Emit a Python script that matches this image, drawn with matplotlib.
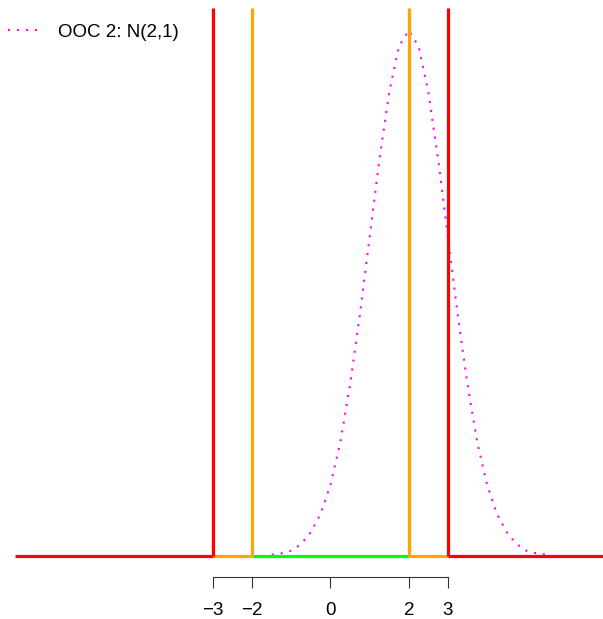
import matplotlib
matplotlib.use("Agg")
import matplotlib.pyplot as plt

plt.rcParams['font.family'] = ['Liberation Sans', 'DejaVu Sans']

# density of the out-of-control process
dens_x = [-1.5, -1.25, -1.0, -0.75, -0.5, -0.25, 0.0, 0.25, 0.5, 0.75,
          1.0, 1.25, 1.5, 1.75, 2.0, 2.25, 2.5, 2.75, 3.0, 3.25,
          3.5, 3.75, 4.0, 4.25, 4.5, 4.75, 5.0, 5.25, 5.5]
dens_y = [0.001, 0.002, 0.004, 0.009, 0.018, 0.032, 0.054, 0.086, 0.130, 0.183,
          0.242, 0.301, 0.352, 0.387, 0.399, 0.387, 0.352, 0.301, 0.242, 0.183,
          0.130, 0.086, 0.054, 0.032, 0.018, 0.009, 0.004, 0.002, 0.001]

# zones along the baseline
seg_start = [-8.05, -3, -2, 2, 3]
seg_end = [-3, -2, 2, 3, 7.5]
seg_col = ['red', 'orange', 'lime', 'orange', 'red']

# limit lines
limits = [-3, -2, 2, 3]
limit_col = ['red', 'orange', 'orange', 'red']

ticks = [-3, -2, 0, 2, 3]
ticklabels = ['\u22123', '\u22122', '0', '2', '3']

fig = plt.figure(figsize=(6.03, 6.19), dpi=100)
ax = fig.add_axes([0, 42/619, 1, 569/619])
ax.set_xlim(-8.44, 6.96)
ax.set_ylim(-0.016, 0.416)

ax.plot(dens_x, dens_y, color='magenta', lw=1.5, linestyle=(0, (1, 3.3)),
        label='OOC 2: N(2,1)')

for x0, x1, c in zip(seg_start, seg_end, seg_col):
    ax.plot([x0, x1], [0, 0], color=c, lw=2.3, solid_capstyle='butt')
for x, c in zip(limits, limit_col):
    ax.plot([x, x], [0, 0.416], color=c, lw=2.3, solid_capstyle='butt')

for s in ['top', 'right', 'left']:
    ax.spines[s].set_visible(False)
ax.spines['bottom'].set_bounds(-3, 3)
ax.spines['bottom'].set_linewidth(0.8)
ax.spines['bottom'].set_color('#333333')
ax.set_yticks([])
ax.set_xticks(ticks)
ax.set_xticklabels(ticklabels, fontsize=13.5)
ax.tick_params(axis='x', length=8, width=0.8, color='#333333', pad=10)

leg = ax.legend(loc='center left', bbox_to_anchor=(8/603, 1 - 32/619),
                bbox_transform=fig.transFigure, frameon=False, fontsize=13.5,
                handlelength=1.6, handletextpad=1.07, borderpad=0, borderaxespad=0)

fig.savefig('out.png', dpi=100)
